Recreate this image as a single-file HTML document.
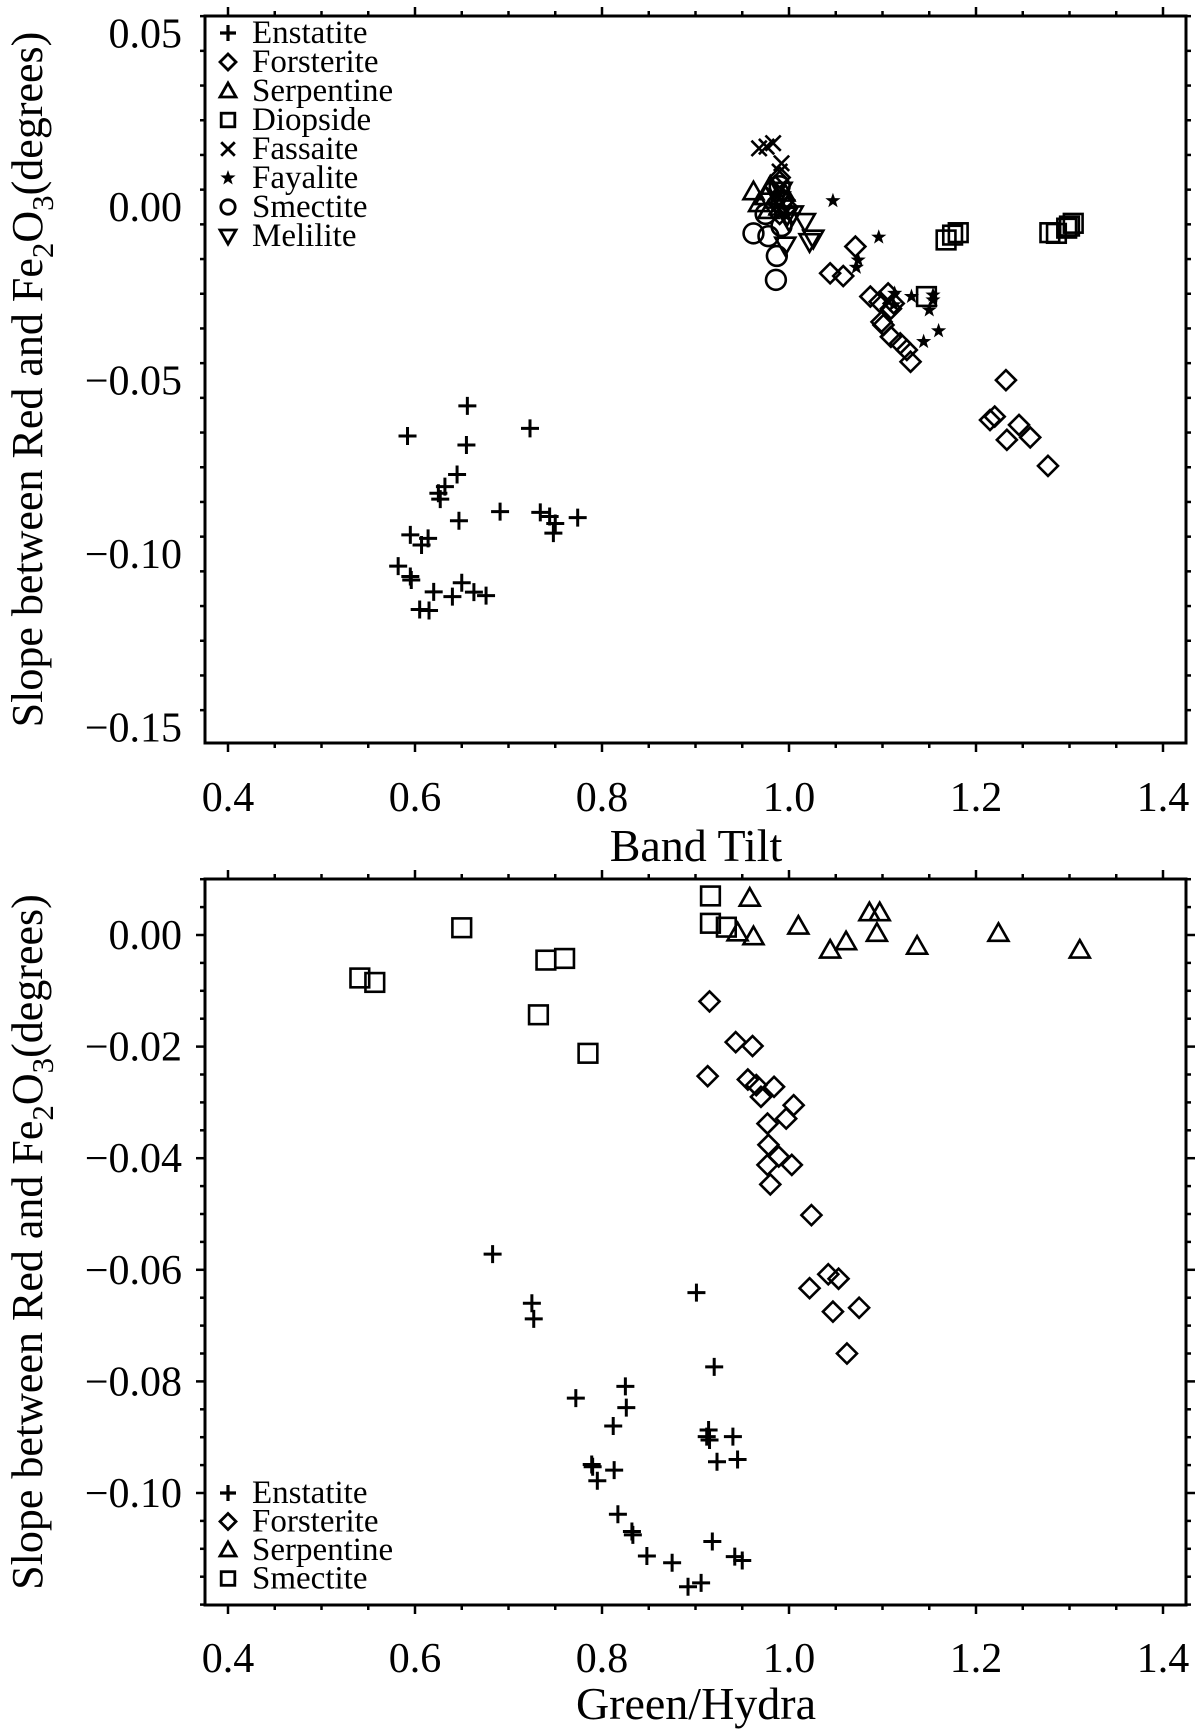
<!DOCTYPE html>
<html><head><meta charset="utf-8"><style>
html,body{margin:0;padding:0;background:#fff;}
svg{display:block;font-family:"Liberation Serif",serif;}
</style></head><body>
<svg id="chart" width="1200" height="1733" viewBox="0 0 1200 1733" xmlns="http://www.w3.org/2000/svg"></svg>
<script>
// ---- Top panel data (Band Tilt vs slope) ----
const topEnstatiteX=[0.656,0.592,0.723,0.655,0.645,0.632,0.625,0.627,0.647,0.691,0.734,0.744,0.750,0.748,0.774,0.595,0.614,0.607,0.582,0.595,0.596,0.650,0.620,0.640,0.663,0.676,0.605,0.615];
const topEnstatiteY=[-0.0573,-0.066,-0.0638,-0.0686,-0.0771,-0.0806,-0.0825,-0.0842,-0.0904,-0.0878,-0.088,-0.0892,-0.0912,-0.094,-0.0895,-0.0945,-0.0955,-0.0974,-0.1035,-0.1065,-0.1075,-0.1083,-0.1109,-0.1123,-0.111,-0.112,-0.116,-0.1163];
const topForsteriteX=[1.071,1.044,1.058,1.087,1.097,1.106,1.112,1.109,1.099,1.101,1.109,1.119,1.126,1.130,1.232,1.215,1.220,1.246,1.258,1.233,1.277,0.985,0.990,0.995,0.990,0.998];
const topForsteriteY=[-0.0114,-0.0191,-0.0199,-0.0258,-0.0273,-0.0249,-0.0278,-0.0293,-0.0331,-0.034,-0.0374,-0.0393,-0.0412,-0.0446,-0.0499,-0.0614,-0.0604,-0.0628,-0.0664,-0.0671,-0.0746,0.006,0.0085,0.002,-0.002,0.0];
const topSerpentineX=[0.962,0.968,0.975,0.980,0.985,0.978,0.990,0.995];
const topSerpentineY=[0.0044,0.001,0.003,0.006,0.002,-0.001,0.0,0.004];
const topDiopsideX=[1.168,1.175,1.181,1.279,1.286,1.297,1.304,1.300,1.147];
const topDiopsideY=[-0.0095,-0.0081,-0.0074,-0.0074,-0.0076,-0.0061,-0.0047,-0.0055,-0.0258];
const topFassaiteX=[0.968,0.983,0.976,0.992,0.990];
const topFassaiteY=[0.0169,0.0184,0.0174,0.0126,0.0102];
const topFayaliteX=[1.047,1.096,1.074,1.072,1.113,1.131,1.154,1.154,1.150,1.144,1.160,1.112];
const topFayaliteY=[0.0018,-0.0087,-0.0153,-0.0174,-0.0249,-0.0258,-0.0254,-0.0268,-0.0297,-0.0388,-0.0357,-0.0282];
const topSmectiteX=[0.962,0.978,0.987,0.986,0.992,0.992,0.975,0.990];
const topSmectiteY=[-0.0076,-0.0084,-0.0141,-0.021,-0.0055,0.0012,-0.002,0.006];
const topMeliliteX=[1.017,1.022,1.026,0.996,0.998,0.992,0.990,1.000,1.004];
const topMeliliteY=[-0.0042,-0.010,-0.009,-0.011,-0.0024,0.0048,0.002,-0.004,-0.002];
// ---- Bottom panel data (Green/Hydra vs slope) ----
const botEnstatiteX=[0.683,0.725,0.727,0.901,0.920,0.772,0.825,0.826,0.812,0.914,0.912,0.915,0.940,0.923,0.945,0.789,0.790,0.813,0.795,0.817,0.832,0.833,0.848,0.875,0.918,0.942,0.950,0.892,0.906];
const botEnstatiteY=[-0.0572,-0.066,-0.0688,-0.0641,-0.0774,-0.083,-0.0809,-0.0847,-0.088,-0.0887,-0.0899,-0.0905,-0.0899,-0.0944,-0.094,-0.0949,-0.0953,-0.0959,-0.0978,-0.1038,-0.1069,-0.1075,-0.1113,-0.1125,-0.1087,-0.1114,-0.1121,-0.1168,-0.1161];
const botForsteriteX=[0.915,0.943,0.961,0.913,0.956,0.965,0.984,0.970,1.005,0.997,0.977,0.978,0.989,0.977,1.003,0.980,1.024,1.042,1.053,1.022,1.047,1.075,1.062];
const botForsteriteY=[-0.0119,-0.0192,-0.0199,-0.0253,-0.0259,-0.0269,-0.0272,-0.029,-0.0305,-0.0329,-0.0338,-0.0376,-0.0397,-0.0412,-0.0412,-0.0447,-0.0502,-0.0608,-0.0616,-0.0633,-0.0675,-0.0668,-0.075];
const botSerpentineX=[0.958,0.945,0.962,1.010,1.044,1.061,1.086,1.097,1.094,1.137,1.224,1.311];
const botSerpentineY=[0.0066,0.0004,-0.0003,0.0016,-0.0027,-0.0012,0.0040,0.0040,0.0003,-0.002,0.0003,-0.0027];
const botSmectiteX=[0.541,0.557,0.650,0.740,0.760,0.732,0.785,0.916,0.916,0.933];
const botSmectiteY=[-0.0077,-0.0085,0.0013,-0.0045,-0.0042,-0.0143,-0.0212,0.0070,0.0021,0.0014];
const xTicks=[0.4,0.6,0.8,1.0,1.2,1.4];
const xTickLabels=["0.4","0.6","0.8","1.0","1.2","1.4"];
const topYTicks=[0.05,0.0,-0.05,-0.10,-0.15];
const topYTickLabels=["0.05","0.00","\u22120.05","\u22120.10","\u22120.15"];
const botYTicks=[0.0,-0.02,-0.04,-0.06,-0.08,-0.10];
const botYTickLabels=["0.00","\u22120.02","\u22120.04","\u22120.06","\u22120.08","\u22120.10"];

const NS="http://www.w3.org/2000/svg";
const svg=document.getElementById('chart');
function mk(tag,attrs,parent){const e=document.createElementNS(NS,tag);for(const k in attrs)e.setAttribute(k,attrs[k]);(parent||svg).appendChild(e);return e;}

const L=205,R=1186;
const xScale=v=>228+(v-0.4)*935;
const topY=v=>207-v*3470;
const botY=v=>935-v*5580;

function marker(g,type,cx,cy,s,sw){
  sw=sw||2.6;
  let e;
  if(type==='plus'){e=mk('path',{d:`M${cx-s} ${cy}H${cx+s}M${cx} ${cy-s}V${cy+s}`,stroke:'#000','stroke-width':sw+0.4,fill:'none'},g);}
  else if(type==='cross'){const d=s*0.85;e=mk('path',{d:`M${cx-d} ${cy-d}L${cx+d} ${cy+d}M${cx-d} ${cy+d}L${cx+d} ${cy-d}`,stroke:'#000','stroke-width':sw,fill:'none'},g);}
  else if(type==='diamond'){e=mk('path',{d:`M${cx} ${cy-s}L${cx+s} ${cy}L${cx} ${cy+s}L${cx-s} ${cy}Z`,stroke:'#000','stroke-width':sw,fill:'none'},g);}
  else if(type==='square'){const d=s*0.85;e=mk('rect',{x:cx-d,y:cy-d,width:2*d,height:2*d,stroke:'#000','stroke-width':sw,fill:'none'},g);}
  else if(type==='triangle'){e=mk('path',{d:`M${cx} ${cy-s}L${cx+s} ${cy+s*0.75}L${cx-s} ${cy+s*0.75}Z`,stroke:'#000','stroke-width':sw,fill:'none'},g);}
  else if(type==='tridown'){e=mk('path',{d:`M${cx} ${cy+s}L${cx+s} ${cy-s*0.75}L${cx-s} ${cy-s*0.75}Z`,stroke:'#000','stroke-width':sw,fill:'none'},g);}
  else if(type==='circle'){e=mk('circle',{cx:cx,cy:cy,r:s*0.9,stroke:'#000','stroke-width':sw,fill:'none'},g);}
  else if(type==='star'){let p='';for(let i=0;i<10;i++){const a=-Math.PI/2+i*Math.PI/5;const r=i%2?s*0.4:s;p+=(i?'L':'M')+(cx+r*Math.cos(a)).toFixed(2)+' '+(cy+r*Math.sin(a)).toFixed(2);}e=mk('path',{d:p+'Z',fill:'#000',stroke:'none'},g);}
  return e;
}

function panel(name,T,B,yMap,yMin,yMax,minorStep,yTicks,yLabels,xTitle,xTitleY,tickLabelY){
  const g=mk('g',{});
  
  
  const fr=mk('rect',{x:L,y:T,width:R-L,height:B-T,fill:'none',stroke:'#000','stroke-width':3},g);
  
  
  for(let i=0;i<=20;i++){
    const v=0.4+i*0.05; const x=xScale(v); const major=(i%4===0); const len=major?9:5;
    mk('line',{x1:x,y1:B,x2:x,y2:B+len,stroke:'#000','stroke-width':2.5},g);
    mk('line',{x1:x,y1:T,x2:x,y2:T-len,stroke:'#000','stroke-width':2.5},g);
  }
  xTicks.forEach((v,i)=>{
    const t=mk('text',{x:xScale(v),y:tickLabelY,'font-size':42,'text-anchor':'middle'},g);
    t.textContent=xTickLabels[i];
    
    
  });
  const n=Math.round((yMax-yMin)/minorStep);
  for(let i=0;i<=n;i++){
    const v=yMin+i*minorStep; const y=yMap(v);
    if(y<T-1||y>B+1)continue;
    const isMajor=yTicks.some(t=>Math.abs(t-v)<1e-6); const len=isMajor?9:5;
    mk('line',{x1:L,y1:y,x2:L-len,y2:y,stroke:'#000','stroke-width':2.5},g);
    mk('line',{x1:R,y1:y,x2:R+len,y2:y,stroke:'#000','stroke-width':2.5},g);
  }
  yTicks.forEach((v,i)=>{
    const t=mk('text',{x:182,y:yMap(v)+14,'font-size':42,'text-anchor':'end'},g);
    t.textContent=yLabels[i];
    
    
  });
  const xt=mk('text',{x:696,y:xTitleY,'font-size':46,'text-anchor':'middle'},g);
  xt.textContent=xTitle;
  
  
  const cy=(T+B)/2;
  const yt=mk('text',{x:0,y:0,'font-size':44,'text-anchor':'middle',transform:`translate(42 ${cy}) rotate(-90)`},g);
  
  
  yt.innerHTML='Slope between Red and Fe<tspan font-size="31" dy="11">2</tspan><tspan dy="-11">O</tspan><tspan font-size="31" dy="11">3</tspan><tspan dy="-11">(degrees)</tspan>';
  return g;
}

function series(g,name,type,xs,ys,yMap,s){
  const sg=mk('g',{},g);
  
  
  xs.forEach((v,i)=>{
    const m=marker(sg,type,xScale(v),yMap(ys[i]),s);
    
    
  });
}

function legend(g,name,entries,y0,step){
  const lg=mk('g',{},g);
  
  
  entries.forEach((e,i)=>{
    const y=y0+i*step;
    const row=mk('g',{},lg);
    
    
    marker(row,e[1],228,y,8,2.8);
    const t=mk('text',{x:252,y:y+10,'font-size':33},row);
    t.textContent=e[0];
  });
}

const gt=panel('top-panel',16,743,topY,-0.155,0.055,0.01,topYTicks,topYTickLabels,'Band Tilt',861,811);
series(gt,'enstatite-series','plus',topEnstatiteX,topEnstatiteY,topY,9);
series(gt,'forsterite-series','diamond',topForsteriteX,topForsteriteY,topY,10);
series(gt,'serpentine-series','triangle',topSerpentineX,topSerpentineY,topY,10);
series(gt,'diopside-series','square',topDiopsideX,topDiopsideY,topY,11);
series(gt,'fassaite-series','cross',topFassaiteX,topFassaiteY,topY,9);
series(gt,'fayalite-series','star',topFayaliteX,topFayaliteY,topY,8);
series(gt,'smectite-series','circle',topSmectiteX,topSmectiteY,topY,11);
series(gt,'melilite-series','tridown',topMeliliteX,topMeliliteY,topY,10);
legend(gt,'top-legend',[['Enstatite','plus'],['Forsterite','diamond'],['Serpentine','triangle'],['Diopside','square'],['Fassaite','cross'],['Fayalite','star'],['Smectite','circle'],['Melilite','tridown']],33,29);

const gb=panel('bottom-panel',879,1605,botY,-0.12,0.01,0.005,botYTicks,botYTickLabels,'Green/Hydra',1719,1672);
series(gb,'enstatite-series','plus',botEnstatiteX,botEnstatiteY,botY,9);
series(gb,'forsterite-series','diamond',botForsteriteX,botForsteriteY,botY,10);
series(gb,'serpentine-series','triangle',botSerpentineX,botSerpentineY,botY,10);
series(gb,'smectite-series','square',botSmectiteX,botSmectiteY,botY,11);
legend(gb,'bottom-legend',[['Enstatite','plus'],['Forsterite','diamond'],['Serpentine','triangle'],['Smectite','square']],1493,28.5);
</script>
</body></html>
